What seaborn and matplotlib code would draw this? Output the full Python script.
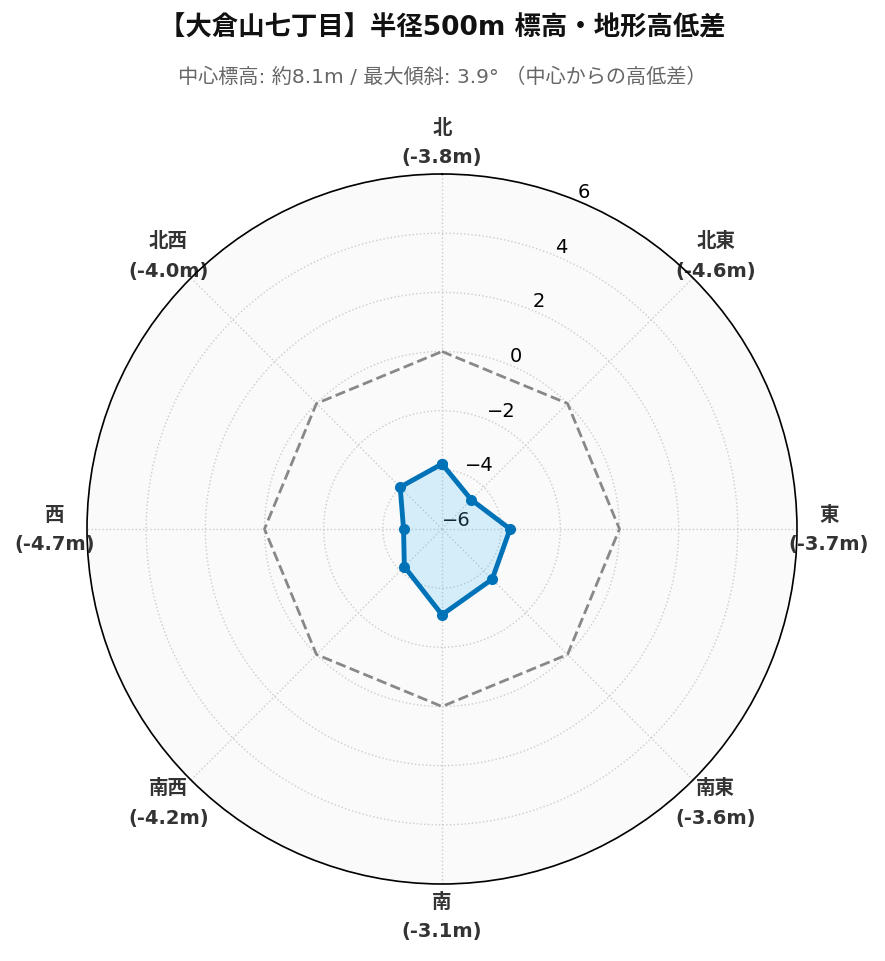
import numpy as np
import pandas as pd
import seaborn as sns
import matplotlib.pyplot as plt

sns.set_theme(style="white")
plt.rcParams["font.family"] = ["DejaVu Sans", "Noto Sans CJK JP"]
plt.rcParams["axes.unicode_minus"] = True

directions = ["北", "北東", "東", "南東", "南", "南西", "西", "北西"]
diffs = [-3.8, -4.6, -3.7, -3.6, -3.1, -4.2, -4.7, -4.0]
rticks = [-6, -4, -2, 0, 2, 4, 6]

title = "【大倉山七丁目】半径500m 標高・地形高低差"
subtitle = "中心標高: 約8.1m / 最大傾斜: 3.9° （中心からの高低差）"

angles = np.deg2rad(np.arange(len(directions)) * 45.0)
df = pd.DataFrame({"theta": np.append(angles, 2 * np.pi), "diff": diffs + diffs[:1]})
ref = pd.DataFrame({"theta": df["theta"], "diff": 0.0})

fig = plt.figure(figsize=(8.85, 9.62), dpi=100)
ax = fig.add_axes([87 / 885, 77 / 962, 710 / 885, 710 / 962], projection="polar")
ax.set_facecolor("#fafafa")
ax.set_theta_zero_location("N")
ax.set_theta_direction(-1)

ax.fill(df["theta"], df["diff"], color="#4FC3F7", alpha=0.22, zorder=2)
sns.lineplot(data=ref, x="theta", y="diff", sort=False, estimator=None, ax=ax,
             color="#888888", linestyle="--", linewidth=2, zorder=3)
sns.lineplot(data=df, x="theta", y="diff", sort=False, estimator=None, ax=ax,
             color="#0072B8", linewidth=3.5, marker="o", markersize=8,
             markeredgewidth=0, zorder=4)

ax.set_ylim(-6, 6)
ax.set_yticks(rticks)
ax.set_yticklabels([f"{t}".replace("-", "\u2212") for t in rticks],
                   fontsize=14, color="black")
ax.set_rlabel_position(22.5)
ax.set_xticks(angles)
ax.set_xticklabels([f"{d}\n({v:.1f}m)" for d, v in zip(directions, diffs)],
                   fontsize=14, fontweight="bold", color="#333333", linespacing=1.7)
ax.tick_params(axis="x", pad=10)
ax.set_xlabel("")
ax.set_ylabel("")
ax.grid(True, color="#cccccc", linestyle=":", linewidth=1)
ax.spines["polar"].set_color("black")
ax.spines["polar"].set_linewidth(1.2)

fig.text(0.5, 1 - 28 / 962, title, ha="center", va="center",
         fontsize=19, fontweight="bold", color="#111111")
fig.text(0.5, 1 - 77 / 962, subtitle, ha="center", va="center",
         fontsize=14.5, color="#666666")

fig.savefig("out.png", dpi=100, facecolor="white")
